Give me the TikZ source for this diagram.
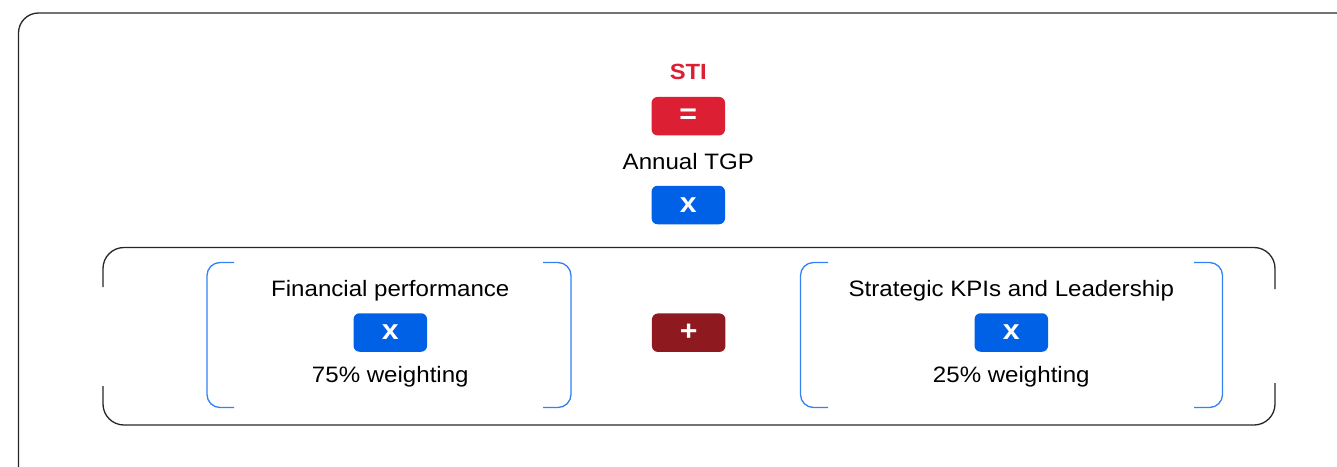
\documentclass[tikz,border=0pt]{standalone}
\usepackage{fontspec}
\setmainfont[FakeStretch=1.08]{Liberation Sans}
\definecolor{stired}{HTML}{DC1F33}
\definecolor{opblue}{HTML}{0060E6}
\definecolor{plusred}{HTML}{8E1A1F}
\definecolor{brblue}{HTML}{3381F2}
\tikzset{
  opbox/.style={rounded corners=6pt, minimum width=73.5pt, minimum height=38.5pt, inner sep=0pt, text=white, font=\fontsize{28}{30}\selectfont\bfseries},
  lbl/.style={anchor=base, inner sep=0pt, font=\fontsize{22.3}{26}\selectfont, text=black},
  frame/.style={draw=black!85, line width=1.3pt},
  brk/.style={draw=brblue, line width=1.3pt, rounded corners=13pt},
}
\begin{document}
\begin{tikzpicture}[x=1pt, y=-1pt]
\useasboundingbox (0,0) rectangle (1337,466);
\begin{scope}
\clip (0,0) rectangle (1337,466);
\draw[frame, rounded corners=20pt] (18.5,520) -- (18.5,13) -- (1400,13);
\end{scope}
% inner frame pieces
\draw[frame, rounded corners=21pt] (103,287) -- (103,247.5) -- (1275,247.5) -- (1275,289);
\draw[frame, rounded corners=21pt] (103,386) -- (103,425) -- (1275,425) -- (1275,383);
% blue brackets
\draw[brk] (234,262.5) -- (207,262.5) -- (207,407.5) -- (234,407.5);
\draw[brk] (543,262.5) -- (571,262.5) -- (571,407.5) -- (543,407.5);
\draw[brk] (828,262.5) -- (800.5,262.5) -- (800.5,407.5) -- (828,407.5);
\draw[brk] (1194,262.5) -- (1222.5,262.5) -- (1222.5,407.5) -- (1194,407.5);
% top column
\node[lbl, text=stired, font=\fontsize{22}{26}\selectfont\bfseries] (sti) at (688.3,79.3) {STI};
\node[opbox, fill=stired] (eq) at (688.3,116.2) {=};
\node[lbl] (tgp) at (688.3,169) {Annual TGP};
\node[opbox, fill=opblue] (times) at (688.3,205) {x};
% middle row
\node[opbox, fill=plusred] (plus) at (688.7,332.7) {+};
\node[lbl] (fin) at (390.3,296) {Financial performance};
\node[opbox, fill=opblue] (finx) at (390.3,332.5) {x};
\node[lbl] (finw) at (390.3,382) {75\% weighting};
\node[lbl] (str) at (1011.3,296) {Strategic KPIs and Leadership};
\node[opbox, fill=opblue] (strx) at (1011.3,332.5) {x};
\node[lbl] (strw) at (1011.3,382) {25\% weighting};
\end{tikzpicture}
\end{document}
